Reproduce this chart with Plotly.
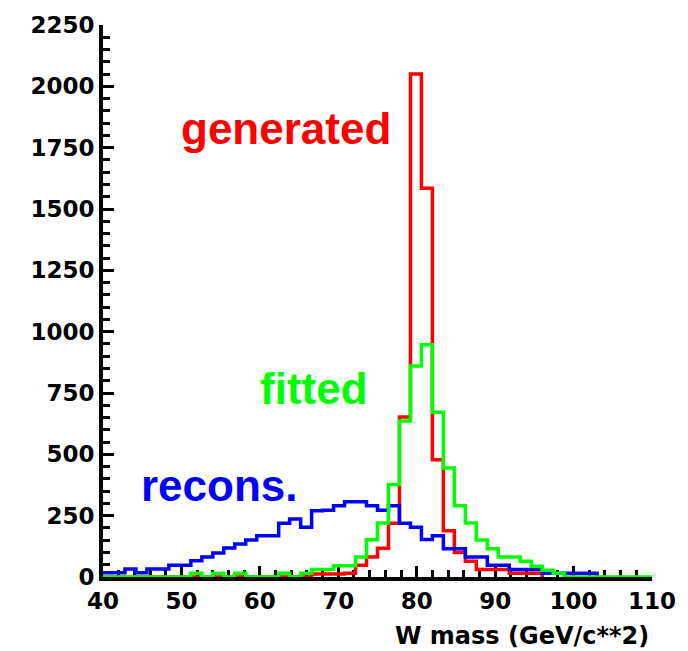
import plotly.graph_objects as go

# Histogram binning: 50 bins of 1.4 GeV between 40 and 110 GeV/c^2
bin_low = 40.0
bin_width = 1.4
n_bins = 50

# Entries per bin
generated = [0, 0, 0, 0, 0, 0, 0, 0, 0, 0,
             0, 0, 0, 0, 0, 0, 0, 0, 0, 12,
             12, 12, 15, 48, 82, 117, 219, 652, 2050, 1585,
             478, 189, 100, 64, 31, 31, 31, 15, 15, 15,
             0, 0, 0, 0, 0, 0, 0, 0, 0, 0]
fitted = [0, 0, 0, 0, 0, 0, 0, 0, 15, 0,
          15, 0, 15, 0, 0, 0, 15, 0, 15, 31,
          31, 46, 46, 82, 152, 220, 377, 636, 860, 947,
          672, 444, 290, 220, 151, 115, 82, 82, 64, 44,
          28, 15, 0, 0, 0, 0, 0, 0, 0, 0]
recons = [17, 17, 33, 17, 33, 33, 48, 48, 66, 82,
          98, 118, 135, 151, 168, 168, 219, 236, 203, 270,
          272, 290, 307, 307, 290, 272, 290, 219, 203, 153,
          168, 115, 115, 82, 82, 48, 48, 31, 31, 31,
          15, 15, 15, 15, 15, 0, 0, 0, 0, 0]

edges = [bin_low + i * bin_width for i in range(n_bins + 1)]


def step_trace(values, color, trim_tail):
    """Outline of a histogram; optionally stop after the last filled bin."""
    if trim_tail:
        n = max(i for i, v in enumerate(values) if v > 0) + 1
        xs = edges[:n] + [edges[n], edges[n]]
        ys = list(values[:n]) + [values[n - 1], 0]
    else:
        xs = edges
        ys = list(values) + [values[-1]]
    return go.Scatter(x=xs, y=ys, mode="lines", line_shape="hv",
                      line=dict(color=color, width=3.5),
                      hoverinfo="skip", showlegend=False)


fig = go.Figure()
fig.add_trace(step_trace(generated, "#ff0000", True))
fig.add_trace(step_trace(recons, "#0000ff", True))
fig.add_trace(step_trace(fitted, "#00ff00", False))

tick_font = dict(family="DejaVu Sans", size=23, color="black", weight="bold")
label_font = dict(family="Liberation Sans, Arial", size=44, weight="bold")

fig.update_layout(
    width=688, height=651,
    margin=dict(l=103, r=33, t=18, b=74),
    paper_bgcolor="white", plot_bgcolor="white",
    xaxis=dict(range=[40, 110], showgrid=False, zeroline=False,
               showline=True, linecolor="black", linewidth=4,
               ticks="inside", ticklen=11, tickwidth=3, tickcolor="black",
               dtick=10, tick0=40, tickfont=tick_font, layer="below traces",
               minor=dict(dtick=2, ticks="inside", ticklen=7, tickwidth=3,
                          tickcolor="black", showgrid=False)),
    yaxis=dict(range=[0, 2250], showgrid=False, zeroline=False,
               showline=True, linecolor="black", linewidth=4,
               ticks="inside", ticklen=11, tickwidth=3, tickcolor="black",
               dtick=250, tick0=0, tickfont=tick_font, layer="below traces",
               minor=dict(dtick=50, ticks="inside", ticklen=7, tickwidth=3,
                          tickcolor="black", showgrid=False)),
)

fig.add_annotation(text="generated", x=63.3, y=1830, xref="x", yref="y",
                   showarrow=False, font=dict(color="#ff0000", **label_font))
fig.add_annotation(text="fitted", x=66.9, y=770, xref="x", yref="y",
                   showarrow=False, font=dict(color="#00ff00", **label_font))
fig.add_annotation(text="recons.", x=54.8, y=372, xref="x", yref="y",
                   showarrow=False, font=dict(color="#0000ff", **label_font))
fig.add_annotation(text="W mass (GeV/c**2)", x=0.998, y=-0.106,
                   xref="paper", yref="paper", xanchor="right", yanchor="middle",
                   showarrow=False,
                   font=dict(family="DejaVu Sans", size=24, color="black", weight="bold"))

fig.write_html("out.html")
